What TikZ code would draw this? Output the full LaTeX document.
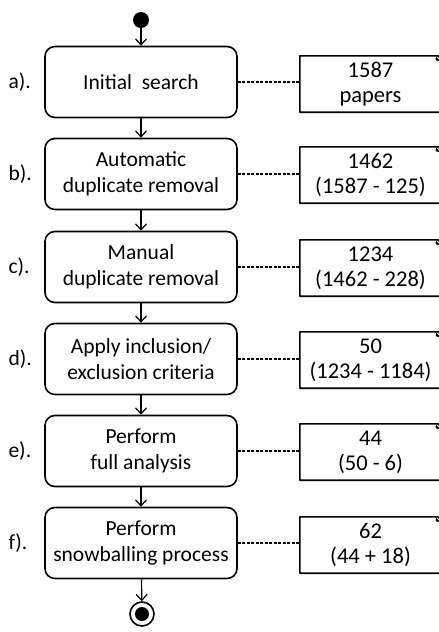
\documentclass[tikz,border=0pt]{standalone}
\usepackage{fontspec}
\setmainfont{Carlito}
\usetikzlibrary{arrows.meta}

\begin{document}
\begin{tikzpicture}[
    x=1pt, y=-1pt,
    stepbox/.style={
        draw,
        line width=1.6pt,
        rounded corners=10pt,
        minimum width=192pt,
        minimum height=71pt,
        align=center,
        font=\fontsize{21.5}{26}\selectfont
    },
    notebox/.style={
        minimum width=141pt,
        minimum height=56pt,
        inner sep=0pt,
        align=center,
        font=\fontsize{22.5}{25}\selectfont
    },
    steplabel/.style={anchor=west, font=\fontsize{21.5}{26}\selectfont},
    flow/.style={-{Straight Barb[length=6pt,width=11pt]}, line width=1.2pt},
    link/.style={dash pattern=on 3pt off 1.5pt, line width=1.2pt}
]

\useasboundingbox (0,0) rectangle (439,632);

% Start and end states
\node[circle, fill, minimum size=16pt, inner sep=0pt] (start) at (141,20) {};
\node[circle, draw, line width=1.6pt, minimum size=24pt, inner sep=0pt] (stop) at (142,614) {};
\fill (stop.center) circle (7pt);

% Steps
\node[stepbox] (search)   at (141,82)  {Initial~ search};
\node[stepbox] (autodup)  at (141,174) {Automatic\\duplicate removal};
\node[stepbox] (mandup)   at (141,267) {Manual\\duplicate removal};
\node[stepbox] (criteria) at (141,359) {Apply inclusion/\\exclusion criteria};
\node[stepbox] (analysis) at (141,451) {Perform\\full analysis};
\node[stepbox] (snowball) at (141,543) {Perform\\snowballing process};

% Step labels
\node[steplabel] (la) at (5,82)  {a).};
\node[steplabel] (lb) at (5,174) {b).};
\node[steplabel] (lc) at (5,267) {c).};
\node[steplabel] (ld) at (5,359) {d).};
\node[steplabel] (le) at (5,451) {e).};
\node[steplabel] (lf) at (5,543) {f).};

% Paper counts
\node[notebox] (na) at (370.5,84)  {1587\\papers};
\node[notebox] (nb) at (370.5,175) {1462\\(1587 - 125)};
\node[notebox] (nc) at (370.5,268) {1234\\(1462 - 228)};
\node[notebox] (nd) at (370.5,360) {50\\(1234 - 1184)};
\node[notebox] (ne) at (370.5,452) {44\\(50 - 6)};
\node[notebox] (nf) at (370.5,545) {62\\(44 + 18)};

% Note outlines with folded corner
\foreach \n in {na,nb,nc,nd,ne,nf} {
    \draw[line width=1.6pt, line join=round]
        (\n.south east) -- (\n.south west) -- (\n.north west)
        -- ([xshift=-6pt]\n.north east) .. controls ([xshift=-2pt]\n.north east) .. ([yshift=-5pt]\n.north east)
        -- (\n.south east);
    \fill ([xshift=-5pt,yshift=-1pt]\n.north east) .. controls ([xshift=-6pt,yshift=-5pt]\n.north east) .. ([xshift=-1pt,yshift=-5pt]\n.north east) -- cycle;
}

% Flow
\draw[flow] (start) -- (search);
\draw[flow] (search) -- (autodup);
\draw[flow] (autodup) -- (mandup);
\draw[flow] (mandup) -- (criteria);
\draw[flow] (criteria) -- (analysis);
\draw[flow] (analysis) -- (snowball);
\draw[flow] (snowball) -- (stop);

% Links to counts
\draw[link] (search.east)   -- (search.east -| na.west);
\draw[link] (autodup.east)  -- (autodup.east -| nb.west);
\draw[link] (mandup.east)   -- (mandup.east -| nc.west);
\draw[link] (criteria.east) -- (criteria.east -| nd.west);
\draw[link] (analysis.east) -- (analysis.east -| ne.west);
\draw[link] (snowball.east) -- (snowball.east -| nf.west);

\end{tikzpicture}
\end{document}
